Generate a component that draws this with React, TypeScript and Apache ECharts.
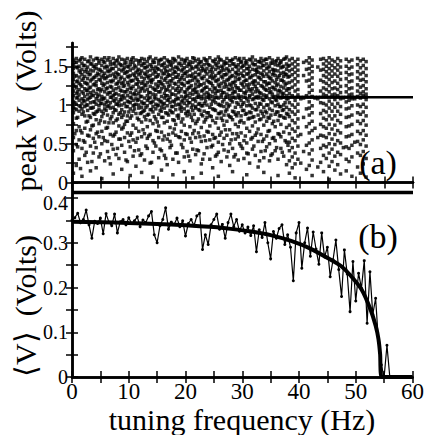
import React, { useEffect, useRef } from "react";
import * as echarts from "echarts";

// ---------- Panel (a): peak V scatter, columns [frequency Hz, peak values x100] ----------
const peakCols: [number, number[]][] = [
  [0.25, [158,152,147,141,133,126,118,112,104,97,90,76,58,41,12]],
  [0.75, [160,155,149,138,130,122,115,109,101,94,83,67,49,22]],
  [1.25, [157,150,144,136,128,120,113,106,99,92,72,55,30]],
  [1.75, [161,154,146,139,132,124,117,108,102,95,88,64,44,8]],
  [2.25, [159,151,143,137,129,121,111,105,98,86,70,52,35]],
  [2.75, [156,149,142,134,127,119,114,107,100,93,79,61,26]],
  [3.25, [162,153,145,140,131,123,116,110,103,96,84,68,47,15]],
  [3.75, [158,150,144,135,126,118,112,104,97,89,74,57,38]],
  [4.25, [160,152,147,138,130,125,115,108,101,91,81,63,45,19]],
  [4.75, [157,154,146,139,133,121,113,106,99,94,76,59,33]],
  [5.25, [159,151,143,136,128,120,111,107,102,92,85,66,50,5]],
  [5.75, [161,155,148,141,134,127,117,109,100,95,78,54,28]],
  [6.25, [158,149,144,137,129,122,114,105,98,87,71,53,40]],
  [6.75, [156,152,145,138,131,124,116,110,103,96,82,62,24]],
  [7.25, [160,153,147,140,132,119,112,106,97,90,77,60,43,11]],
  [7.75, [157,150,142,135,127,121,115,108,101,93,80,65,36]],
  [8.25, [162,154,146,139,130,123,113,104,99,88,73,56,31]],
  [8.75, [159,151,144,136,128,118,111,107,100,94,84,69,48,17]],
  [9.25, [158,153,148,141,133,125,117,109,102,91,75,58,39]],
  [9.75, [160,150,143,137,129,120,112,105,98,86,79,64,27]],
  [10.25, [156,152,145,138,131,122,116,110,103,95,83,61,46,9]],
  [10.75, [161,155,147,140,132,124,114,106,99,92,74,55,34]],
  [11.25, [158,149,142,135,127,119,113,108,101,89,70,52,21]],
  [11.75, [157,153,146,139,130,123,115,107,100,96,81,66,42]],
  [12.25, [160,151,144,136,128,121,111,104,97,90,78,59,37,13]],
  [12.75, [159,154,148,141,134,126,118,109,102,93,85,63,29]],
  [13.25, [156,150,143,137,129,120,112,106,99,87,72,57,44]],
  [13.75, [162,152,145,138,131,124,116,110,103,94,80,62,25]],
  [14.25, [158,155,147,140,133,122,114,105,98,91,76,54,39,7]],
  [14.75, [160,149,142,136,127,119,113,108,101,95,82,67,47]],
  [15.25, [157,153,146,139,130,125,117,107,100,88,73,58,32]],
  [15.75, [159,151,144,135,128,121,111,104,97,92,84,65,41,16]],
  [16.25, [161,154,148,141,132,123,115,109,102,96,77,60,35]],
  [16.75, [158,150,143,137,129,120,112,106,99,89,79,56,23]],
  [17.25, [156,152,145,138,131,126,118,110,103,93,71,53,45]],
  [17.75, [160,155,147,140,134,122,114,105,98,90,81,64,30,10]],
  [18.25, [157,149,142,136,127,119,113,107,100,94,75,61,38]],
  [18.75, [162,153,146,139,130,124,116,108,101,87,83,59,26]],
  [19.25, [159,151,144,135,128,121,111,104,97,92,78,66,49]],
  [19.75, [158,154,148,141,133,125,117,109,102,95,74,55,33,14]],
  [20.25, [160,150,143,137,129,120,112,106,99,91,86,62,40]],
  [20.75, [156,152,145,138,131,123,115,110,103,88,72,57,28]],
  [21.25, [161,155,147,140,132,119,114,107,100,93,80,63,43,6]],
  [21.75, [157,149,142,136,127,122,116,105,98,96,76,58,36]],
  [22.25, [159,153,146,139,130,124,113,110,101,94,82,64,41]],
  [22.75, [156,150,144,135,126,118,111,108,99,88,71,53,24,12]],
  [23.25, [160,152,145,137,128,121,114,109,102,92,78,60,37]],
  [23.75, [158,154,147,140,132,123,116,110,100,90,84,66,45]],
  [24.25, [161,151,143,136,129,120,112,108,97,86,73,55,30]],
  [24.75, [157,149,142,134,125,117,111,105,95,80,62,48,19]],
  [25.25, [159,153,146,138,131,122,115,110,103,93,77,58,34]],
  [25.75, [162,155,148,141,133,126,118,109,101,89,70,52,39,8]],
  [26.25, [158,150,144,137,128,119,113,110,99,91,83,65,27]],
  [26.75, [156,152,145,139,130,123,116,107,98,87,74,57,42]],
  [27.25, [160,154,147,140,132,124,114,110,102,94,79,61,33]],
  [27.75, [157,151,143,135,127,120,112,108,100,85,68,50,22]],
  [28.25, [159,153,146,138,129,121,115,110,104,92,81,63,44,14]],
  [28.75, [161,150,142,136,131,125,117,109,97,88,75,56,36]],
  [29.25, [158,152,145,139,133,122,113,110,101,90,72,59,29]],
  [29.75, [156,155,148,141,128,119,111,106,98,86,80,64,47]],
  [30.25, [160,151,144,137,130,123,116,110,103,93,77,54,31]],
  [30.75, [157,153,147,140,132,126,118,108,99,89,70,51,38,10]],
  [31.25, [159,150,143,135,127,120,112,110,100,91,83,66,25]],
  [31.75, [162,154,146,138,129,121,114,107,96,84,73,58,43]],
  [32.25, [158,152,145,139,131,124,117,110,102,94,78,61,35]],
  [32.75, [156,149,142,136,128,118,111,109,98,87,69,53,20]],
  [33.25, [160,155,148,141,133,125,115,110,101,92,82,62,40]],
  [33.75, [157,151,144,137,130,122,113,106,97,85,74,56,32,13]],
  [34.25, [159,153,147,140,126,119,112,110,100,90,79,60,46]],
  [34.75, [161,150,143,135,128,121,116,108,95,83,67,50,28]],
  [35.25, [158,154,146,139,131,123,114,110,103,93,76,57,37]],
  [35.75, [156,152,145,138,129,120,111,107,99,88,72,54,41]],
  [36.25, [160,151,144,136,127,118,113,110,101,91,80,63,30,9]],
  [36.75, [157,155,148,141,132,124,117,109,98,86,75,59,44]],
  [37.25, [159,150,142,137,130,122,115,110,100,94,84,65,34]],
  [37.75, [162,153,146,139,128,119,112,108,97,89,71,52,23]],
  [38.25, [158,151,144,137,129,121,115,110,103,94,85,74,63,52,41,28,12]],
  [38.75, [160,153,146,139,131,123,112,110,100,91,80,69,57,45,33,19]],
  [39.25, [156,149,142,134,126,118,110,106,97,88,77,66,54,38,24,6]],
  [39.75, [159,152,145,138,130,120,113,110,101,92,82,71,60,47,30]],
  [40.25, [110,108,62,25]],
  [40.75, [155,138,110,109,84,40]],
  [41.25, [157,146,131,112,110,95,72,48,17]],
  [41.75, [161,154,147,140,132,124,116,110,104,96,87,76,64,51,37,22]],
  [42.25, [158,150,143,135,127,119,111,110,99,90,79,67,55,42,29,9]],
  [42.75, [110,109,70]],
  [43.25, [149,110,108,58,20]],
  [43.75, [159,145,132,118,110,103,89,75,61,44,26]],
  [44.25, [160,153,146,138,130,122,114,110,102,93,83,72,60,48,35,14]],
  [44.75, [157,150,143,136,128,120,112,110,100,91,81,70,58,46,31]],
  [45.25, [161,154,147,140,133,125,117,110,105,96,86,75,63,50,38,21,4]],
  [45.75, [158,151,144,137,129,121,113,110,101,92,82,69,56,43,27]],
  [46.25, [156,148,140,131,122,114,110,107,97,86,74,62,49,34,16]],
  [46.75, [160,152,145,137,128,120,112,110,102,92,80,67,54,39,23]],
  [47.25, [157,149,141,133,124,116,110,108,98,88,77,64,51,36,11]],
  [47.75, [110,109,45]],
  [48.25, [159,150,142,134,125,117,110,104,95,84,72,59,46,30,15]],
  [48.75, [156,147,139,130,121,113,110,106,96,85,73,60,44,27]],
  [49.25, [158,149,140,131,122,114,110,108,99,87,75,62,48,33,8]],
  [49.75, [110,108,52]],
  [50.25, [160,152,143,135,126,118,111,110,100,90,79,66,53,38,20]],
  [50.75, [157,148,140,132,123,115,110,109,98,88,76,63,49,35,12]],
  [51.25, [159,151,142,133,125,117,112,110,101,91,80,67,55,40,24]],
  [51.75, [156,147,138,130,121,114,110,107,97,86,74,61,47,31,7]],
];
// interleaved sweep, same units
const peakCols2: [number, number[]][] = [
  [0.5, [155,137,124,103,95,63]], [1.0, [148,131,117,110,84,46]], [1.5, [159,142,126,98,67,18]],
  [2.0, [151,134,115,106,91,54]], [2.5, [146,128,119,100,78,39]], [3.0, [157,139,122,109,86,60]],
  [3.5, [153,133,113,96,73,27]], [4.0, [149,136,127,104,88,52]], [4.5, [160,141,120,111,92,65]],
  [5.0, [145,132,118,102,80,37]], [5.5, [156,138,125,108,89,58]], [6.0, [150,135,121,103,93,70]],
  [6.5, [161,143,116,99,77,32]], [7.0, [147,130,123,110,85,49]], [7.5, [154,137,114,105,94,62]],
  [8.0, [158,140,128,101,82,44]], [8.5, [152,134,119,107,90,56]], [9.0, [146,129,124,112,87,71]],
  [9.5, [155,142,117,98,79,29]], [10.0, [149,136,126,104,91,53]], [10.5, [159,131,121,109,86,64]],
  [11.0, [151,138,115,100,95,41]], [11.5, [144,133,127,106,83,57]], [12.0, [157,141,118,111,89,35]],
  [12.5, [153,130,122,102,92,68]], [13.0, [148,139,125,97,81,47]], [13.5, [160,135,116,108,88,60]],
  [14.0, [150,132,129,103,94,26]], [14.5, [155,144,120,110,85,51]], [15.0, [147,137,123,99,78,66]],
  [15.5, [158,130,117,105,93,43]], [16.0, [152,140,126,101,84,55]], [16.5, [145,134,119,112,90,31]],
  [17.0, [156,139,124,107,87,62]], [17.5, [151,131,114,98,91,48]], [18.0, [159,143,128,104,80,69]],
  [18.5, [148,136,121,109,86,38]], [19.0, [154,133,118,100,95,58]], [19.5, [146,138,127,106,82,45]],
  [20.0, [157,141,116,111,89,63]], [20.5, [153,129,122,103,92,34]], [21.0, [149,137,125,97,84,52]],
  [21.5, [160,135,120,108,88,67]], [22.0, [150,132,117,110,79,42]], [22.5, [155,140,126,102,93,59]],
  [23.0, [147,134,119,99,86,30]], [23.5, [158,143,123,105,81,54]], [24.0, [152,130,114,110,90,65]],
  [24.5, [146,138,128,101,85,46]], [25.0, [156,136,121,107,94,57]], [25.5, [151,131,118,110,83,36]],
  [26.0, [159,142,124,100,89,61]], [26.5, [148,135,116,104,80,49]], [27.0, [154,139,127,110,92,68]],
  [27.5, [145,133,120,98,87,40]], [28.0, [157,137,125,106,84,55]], [28.5, [153,129,117,110,91,33]],
  [29.0, [149,141,122,103,86,63]], [29.5, [160,134,119,109,78,50]], [30.0, [150,138,126,101,93,44]],
  [30.5, [155,132,115,110,88,60]], [31.0, [147,140,123,105,82,37]], [31.5, [158,136,118,99,90,56]],
  [32.0, [152,131,127,108,85,47]], [32.5, [146,143,121,110,94,64]], [33.0, [156,135,116,102,81,28]],
  [33.5, [151,139,124,107,89,53]], [34.0, [159,130,120,110,92,41]], [34.5, [148,137,128,100,84,66]],
  [35.0, [154,134,117,104,87,35]], [35.5, [145,141,122,110,79,58]], [36.0, [157,133,125,106,91,45]],
  [36.5, [153,138,119,98,86,62]], [37.0, [149,132,114,110,93,39]], [37.5, [160,140,126,103,83,54]],
  [38.0, [150,136,121,108,88,48]],
];
// the dense baseline of zero-amplitude peaks and the locked 1.1 V branch
const baseLine: [number, number][] = [[0, -0.13], [60, -0.13]];
const lockedLine: [number, number][] = [[36, 1.1], [60, 1.1]];

// ---------- Panel (b): mean V ----------
const meanF = [
  0,0.5,1,1.5,2,2.5,3,3.5,4,4.5,5,5.5,6,6.5,7,7.5,8,8.5,9,9.5,
  10,10.5,11,11.5,12,12.5,13,13.5,14,14.5,15,15.5,16,16.5,17,17.5,18,18.5,19,19.5,
  20,20.5,21,21.5,22,22.5,23,23.5,24,24.5,25,25.5,26,26.5,27,27.5,28,28.5,29,29.5,
  30,30.5,31,31.5,32,32.5,33,33.5,34,34.5,35,35.5,36,36.5,37,37.5,38,38.5,39,39.5,
  40,40.5,41,41.5,42,42.5,43,43.5,44,44.5,45,45.5,46,46.5,47,47.5,48,48.5,49,49.5,
  50,50.5,51,51.5,52,52.5,53,53.5,54,54.5,55,55.5,56,
];
const meanV = [
  0.350,0.356,0.366,0.345,0.352,0.373,0.340,0.310,0.348,0.343,0.355,0.320,0.365,0.346,0.338,0.364,0.322,0.347,0.352,0.340,
  0.356,0.343,0.349,0.358,0.336,0.351,0.345,0.360,0.370,0.318,0.300,0.338,0.352,0.378,0.330,0.346,0.341,0.355,0.336,0.349,
  0.315,0.343,0.352,0.338,0.360,0.366,0.285,0.318,0.296,0.340,0.352,0.364,0.330,0.341,0.310,0.345,0.364,0.336,0.352,0.326,
  0.340,0.322,0.335,0.316,0.338,0.280,0.329,0.312,0.345,0.300,0.264,0.325,0.310,0.332,0.340,0.296,0.318,0.290,0.215,0.322,
  0.345,0.243,0.300,0.333,0.270,0.324,0.286,0.252,0.322,0.268,0.290,0.224,0.262,0.306,0.240,0.180,0.284,0.230,0.146,0.258,
  0.170,0.232,0.198,0.260,0.120,0.235,0.140,0.176,0.079,0.027,0.000,0.071,0.000,
];
const fitF = [0, 5, 10, 15, 20, 25, 28, 31.6, 35, 38.6, 42, 45.6, 47.4, 49, 51, 52.6, 53.5, 54, 54.3, 54.55, 60];
const fitV = [0.347, 0.346, 0.344, 0.342, 0.339, 0.335, 0.331, 0.325, 0.317, 0.304, 0.287, 0.262, 0.248, 0.228, 0.196, 0.151, 0.115, 0.085, 0.05, 0.0, 0.0];

const topLabels = [0, 0.5, 1, 1.5];
const topTicks = [0, 0.25, 0.5, 0.75, 1, 1.25, 1.5, 1.75];
const bottomLabels = [0, 0.1, 0.2, 0.3];
const bottomTopLabel = "0.4";

const FONT = "Liberation Serif, Times New Roman, serif";

export default function App() {
  const ref = useRef<HTMLDivElement>(null);
  useEffect(() => {
    if (!ref.current) return;
    const chart = echarts.init(ref.current, undefined, { renderer: "svg" });
    const scatter: [number, number][] = [];
    peakCols.forEach(([f, vals]) => vals.forEach((v) => scatter.push([f, v / 100])));
    peakCols2.forEach(([f, vals]) => vals.forEach((v) => scatter.push([f, v / 100])));
    const axisLine = { show: true, lineStyle: { color: "#000", width: 2.5 } };
    const tick = { show: true, inside: true, length: 6, lineStyle: { color: "#000", width: 1.5 } };
    const xBase = (grid: number, pos: "top" | "bottom", labels: boolean) => ({
      type: "value" as const,
      gridIndex: grid,
      position: pos,
      min: 0,
      max: 60,
      interval: 5,
      axisLine,
      axisTick: tick,
      splitLine: { show: false },
      axisLabel: labels
        ? {
            show: true,
            color: "#000",
            fontFamily: FONT,
            fontSize: 23,
            margin: 3,
            formatter: (v: number) => (v % 10 === 0 ? String(v) : ""),
          }
        : { show: false },
    });
    const option: any = {
      animation: false,
      backgroundColor: "#fff",
      textStyle: { fontFamily: FONT },
      grid: [
        { left: 72, right: 14, top: 43, height: 155 },
        { left: 72, right: 14, top: 198, height: 179 },
      ],
      xAxis: [
        xBase(0, "bottom", false),
        xBase(0, "top", false),
        xBase(1, "bottom", true),
        xBase(1, "top", false),
      ],
      yAxis: [
        {
          type: "value", gridIndex: 0, position: "left", min: -0.2, max: 1.8,
          axisLine, splitLine: { show: false },
          axisTick: { ...tick, customValues: topTicks },
          axisLabel: {
            show: true, color: "#000", fontFamily: FONT, fontSize: 20, margin: 4,
            customValues: topLabels,
          },
        },
        {
          type: "value", gridIndex: 0, position: "right", min: -0.2, max: 1.8,
          axisLine, splitLine: { show: false },
          axisTick: { ...tick, customValues: topTicks },
          axisLabel: { show: false },
        },
        {
          type: "value", gridIndex: 1, position: "left", min: 0, max: 0.4, interval: 0.1,
          axisLine, splitLine: { show: false },
          axisTick: tick,
          minorTick: { show: true, splitNumber: 2, length: 6, lineStyle: { color: "#000", width: 1.5 } },
          axisLabel: {
            show: true, color: "#000", fontFamily: FONT, fontSize: 20, margin: 4,
            customValues: bottomLabels,
          },
        },
        {
          type: "value", gridIndex: 1, position: "right", min: 0, max: 0.4, interval: 0.1,
          axisLine, splitLine: { show: false },
          axisTick: tick,
          minorTick: { show: true, splitNumber: 2, length: 6, lineStyle: { color: "#000", width: 1.5 } },
          axisLabel: { show: false },
        },
      ],
      series: [
        {
          type: "scatter", xAxisIndex: 0, yAxisIndex: 0, data: scatter,
          symbol: "rect", symbolSize: 3.5, itemStyle: { color: "#000" }, silent: true,
        },
        {
          type: "line", xAxisIndex: 0, yAxisIndex: 0, data: baseLine, showSymbol: false,
          lineStyle: { color: "#000", width: 3.5 }, silent: true,
        },
        {
          type: "line", xAxisIndex: 0, yAxisIndex: 0, data: lockedLine, showSymbol: false,
          lineStyle: { color: "#000", width: 2.5 }, silent: true,
        },
        {
          type: "line", xAxisIndex: 2, yAxisIndex: 2,
          data: meanF.map((f, i) => [f, meanV[i]]),
          symbol: "circle", symbolSize: 3, itemStyle: { color: "#000" },
          lineStyle: { color: "#000", width: 1.2 }, silent: true,
        },
        {
          type: "line", xAxisIndex: 2, yAxisIndex: 2,
          data: fitF.map((f, i) => [f, fitV[i]]),
          showSymbol: false, smooth: 0.2,
          lineStyle: { color: "#000", width: 4 }, silent: true,
        },
      ],
      graphic: [
        {
          type: "text", x: 68, y: 203,
          style: { text: bottomTopLabel, fontFamily: FONT, fontSize: 20, fill: "#000", align: "right", verticalAlign: "middle" },
        },
        {
          type: "text", x: 25, y: 101, rotation: Math.PI / 2,
          style: { text: "peak V  (Volts)", fontFamily: FONT, fontSize: 30, fill: "#000", align: "center", verticalAlign: "middle" },
        },
        {
          type: "text", x: 25, y: 306, rotation: Math.PI / 2,
          style: { text: "\u27E8V\u27E9  (Volts)", fontFamily: FONT, fontSize: 30, fill: "#000", align: "center", verticalAlign: "middle" },
        },
        {
          type: "text", x: 242, y: 419,
          style: { text: "tuning frequency (Hz)", fontFamily: FONT, fontSize: 30, fill: "#000", align: "center", verticalAlign: "middle" },
        },
        {
          type: "text", x: 378, y: 162,
          style: { text: "(a)", fontFamily: FONT, fontSize: 34, fill: "#000", align: "center", verticalAlign: "middle" },
        },
        {
          type: "text", x: 378, y: 236,
          style: { text: "(b)", fontFamily: FONT, fontSize: 34, fill: "#000", align: "center", verticalAlign: "middle" },
        },
      ],
    };
    chart.setOption(option);
    return () => chart.dispose();
  }, []);
  return <div ref={ref} style={{ width: 427, height: 435, position: "absolute", left: 0, top: 0 }} />;
}
